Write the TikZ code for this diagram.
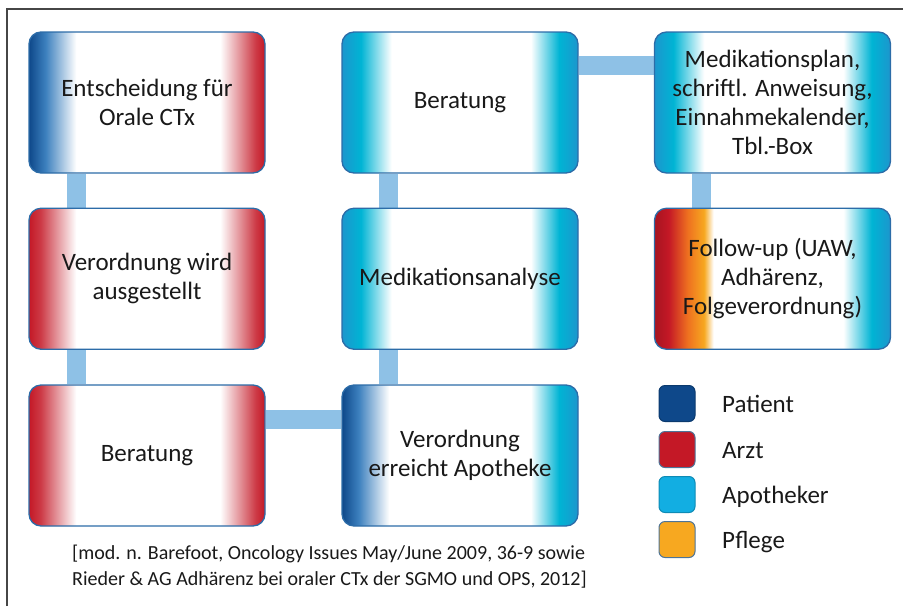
\documentclass[tikz,border=0pt]{standalone}
\usepackage{fontspec}
\setmainfont{Carlito}
\usetikzlibrary{backgrounds}
\definecolor{patient}{RGB}{14,72,138}
\definecolor{patientL}{RGB}{60,128,190}
\definecolor{arzt}{RGB}{196,24,38}
\definecolor{apoD}{RGB}{28,150,205}
\definecolor{apoL}{RGB}{0,180,212}
\definecolor{legApo}{RGB}{18,174,226}
\definecolor{pflege}{RGB}{247,168,32}
\definecolor{orangeM}{RGB}{238,112,32}
\definecolor{connc}{RGB}{142,193,230}
\definecolor{bord}{RGB}{44,108,168}
\definecolor{txt}{RGB}{25,25,25}
\definecolor{framec}{RGB}{70,70,70}
\pgfdeclarehorizontalshading{shPA}{100bp}{color(0bp)=(patient); color(25bp)=(patient); color(28.5bp)=(patientL); color(35bp)=(white); color(65.5bp)=(white); color(73bp)=(arzt!85!white); color(75bp)=(arzt); color(100bp)=(arzt)}
\pgfdeclarehorizontalshading{shAA}{100bp}{color(0bp)=(arzt); color(25bp)=(arzt); color(27.5bp)=(arzt!85!white); color(35bp)=(white); color(65.5bp)=(white); color(73bp)=(arzt!85!white); color(75bp)=(arzt); color(100bp)=(arzt)}
\pgfdeclarehorizontalshading{shTT}{100bp}{color(0bp)=(apoD); color(25bp)=(apoD); color(29bp)=(apoL); color(35.5bp)=(white); color(65bp)=(white); color(71bp)=(apoL); color(75bp)=(apoD); color(100bp)=(apoD)}
\pgfdeclarehorizontalshading{shPT}{100bp}{color(0bp)=(patient); color(25bp)=(patient); color(28.5bp)=(patientL); color(35bp)=(white); color(65bp)=(white); color(71bp)=(apoL); color(75bp)=(apoD); color(100bp)=(apoD)}
\pgfdeclarehorizontalshading{shOT}{100bp}{color(0bp)=(arzt!85!black); color(25bp)=(arzt!85!black); color(28bp)=(arzt); color(32bp)=(orangeM); color(35.5bp)=(pflege); color(37.5bp)=(white); color(65bp)=(white); color(71bp)=(apoL); color(75bp)=(apoD); color(100bp)=(apoD)}
\begin{document}
\begin{tikzpicture}[x=1pt,y=-1pt,
  box/.style={rounded corners=12pt, draw=bord, line width=1.3pt, shade,
    minimum width=236pt, minimum height=141pt, inner sep=0pt, align=center,
    text=txt, font=\fontsize{25}{29}\selectfont},
  link/.style={draw=connc, line width=19pt},
  legsq/.style={rounded corners=6pt, minimum size=36pt, inner sep=0pt, draw=bord!60!gray, line width=1pt},
  legtxt/.style={anchor=base west, inner sep=0pt, text=txt, font=\fontsize{25}{29}\selectfont}]
\useasboundingbox (0,0) rectangle (903,606);
\draw[framec, line width=1.5pt] (7,606) -- (7,9) -- (903,9);

\node[box, shading=shPA] (b1) at (147,102.5) {Entscheidung für\\Orale CTx};
\node[box, shading=shAA] (b2) at (147,278.75) {Verordnung wird\\ausgestellt};
\node[box, shading=shAA] (b3) at (147,455.5) {Beratung};
\node[box, shading=shTT] (b4) at (460,102.5) {Beratung};
\node[box, shading=shTT] (b5) at (460,278.75) {Medikationsanalyse};
\node[box, shading=shPT] (b6) at (460,455.5) {Verordnung\\erreicht Apotheke};
\node[box, shading=shTT] (b7) at (772.5,102.5) {Medikationsplan,\\schriftl. Anweisung,\\Einnahmekalender,\\Tbl.-Box};
\node[box, shading=shOT] (b8) at (772.5,278.75) {Follow-up (UAW,\\Adhärenz,\\Folgeverordnung)};

\begin{pgfonlayer}{background}
\draw[link] ([xshift=48pt]b1.south west) -- ([xshift=48pt]b2.north west);
\draw[link] ([xshift=48pt]b2.south west) -- ([xshift=48pt]b3.north west);
\draw[link] ([yshift=-35pt]b3.north east) -- ([yshift=-35pt]b6.north west);
\draw[link] ([xshift=47pt]b6.north west) -- ([xshift=47pt]b5.south west);
\draw[link] ([xshift=47pt]b5.north west) -- ([xshift=47pt]b4.south west);
\draw[link] ([yshift=-34pt]b4.north east) -- ([yshift=-34pt]b7.north west);
\draw[link] ([xshift=48pt]b7.south west) -- ([xshift=48pt]b8.north west);
\end{pgfonlayer}

\node[legsq, fill=patient, draw=patient!80!black] (lp) at (677,403.5) {};
\node[legsq, fill=arzt] (la) at (677,449.5) {};
\node[legsq, fill=legApo, draw=legApo!80!black] (lo) at (677,494.5) {};
\node[legsq, fill=pflege] (lf) at (677,539.5) {};
\node[legtxt] (tp) at (722,412) {Patient};
\node[legtxt] (ta) at (722,458) {Arzt};
\node[legtxt] (to) at (722,503) {Apotheker};
\node[legtxt] (tf) at (722,548) {Pflege};

\node[anchor=north west, align=left, inner sep=0pt, text=txt, font=\fontsize{20}{26}\selectfont] (cap) at (72,545) {[mod. n. Barefoot, Oncology Issues May/June 2009, 36-9 sowie\\Rieder \& AG Adhärenz bei oraler CTx der SGMO und OPS, 2012]};
\end{tikzpicture}
\end{document}
